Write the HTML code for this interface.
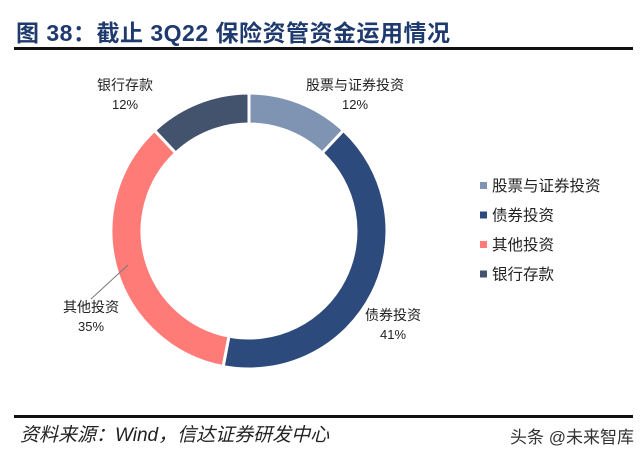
<!DOCTYPE html>
<html><head><meta charset="utf-8">
<style>
body{margin:0;width:640px;height:450px;background:#fff;overflow:hidden;position:relative;font-family:"Liberation Sans","Noto Sans CJK SC",sans-serif;}
#title{position:absolute;left:16px;top:14px;font-size:23px;font-weight:bold;color:#1f3a6e;letter-spacing:0.5px;white-space:nowrap;}
.rule{position:absolute;left:14px;width:619px;height:3px;background:#111;}
#src{position:absolute;left:20px;top:420px;font-size:19px;font-style:italic;color:#222;white-space:nowrap;}
#wm{position:absolute;left:510px;top:423px;font-size:17px;color:#333;white-space:nowrap;}
</style></head><body>
<div id="title">图 38：截止 3Q22 保险资管资金运用情况</div>
<div class="rule" style="top:47px"></div>
<div class="rule" style="top:415px"></div>
<div id="src">资料来源：Wind，信达证券研发中心</div>
<div id="wm">头条 @未来智库</div>
<svg id="chart" width="640" height="450" style="position:absolute;left:0;top:0"></svg>
<script>
const categories=["股票与证券投资","债券投资","其他投资","银行存款"];
const values=[12,41,35,12];
const colors=["#7f93b3","#2d4a7c","#ff7b77","#43536e"];
const labelPos=[[355,90],[393,320],[91,312],[125,90]];
const NS="http://www.w3.org/2000/svg";
const svg=document.getElementById('chart');
const cx=249,cy=231,R=138,r=107;
const total=values.reduce((a,b)=>a+b,0);
function pt(a,rad){return [cx+rad*Math.sin(a),cy-rad*Math.cos(a)];}
let acc=0;
values.forEach((v,i)=>{
  const a0=acc/total*2*Math.PI;acc+=v;const a1=acc/total*2*Math.PI;
  const lg=(a1-a0)>Math.PI?1:0;
  const [x0,y0]=pt(a0,R),[x1,y1]=pt(a1,R),[x2,y2]=pt(a1,r),[x3,y3]=pt(a0,r);
  const p=document.createElementNS(NS,'path');
  p.setAttribute('d',`M${x0},${y0}A${R},${R} 0 ${lg} 1 ${x1},${y1}L${x2},${y2}A${r},${r} 0 ${lg} 0 ${x3},${y3}Z`);
  p.setAttribute('fill',colors[i]);p.setAttribute('stroke','#fff');p.setAttribute('stroke-width','3');
  
  
  svg.appendChild(p);
  const [lx,ly]=labelPos[i];
  const t=document.createElementNS(NS,'text');
  t.setAttribute('x',lx);t.setAttribute('y',ly);t.setAttribute('text-anchor','middle');
  t.setAttribute('font-size','14');t.setAttribute('fill','#222');
  t.setAttribute('font-family','"Liberation Sans","Noto Sans CJK SC",sans-serif');
  t.textContent=categories[i];
  
  
  svg.appendChild(t);
  const t2=document.createElementNS(NS,'text');
  t2.setAttribute('x',lx);t2.setAttribute('y',ly+19);t2.setAttribute('text-anchor','middle');
  t2.setAttribute('font-size','13');t2.setAttribute('fill','#222');
  t2.setAttribute('font-family','"Liberation Sans",sans-serif');
  t2.textContent=v+'%';
  
  
  svg.appendChild(t2);
  // legend
  const ly2=185+i*29.5;
  const sq=document.createElementNS(NS,'rect');
  sq.setAttribute('x',480);sq.setAttribute('y',ly2-3);sq.setAttribute('width',7);sq.setAttribute('height',7);
  sq.setAttribute('fill',colors[i]);
  
  
  svg.appendChild(sq);
  const lt=document.createElementNS(NS,'text');
  lt.setAttribute('x',492);lt.setAttribute('y',ly2+6);lt.setAttribute('font-size','15.5');lt.setAttribute('fill','#222');
  lt.setAttribute('font-family','"Liberation Sans","Noto Sans CJK SC",sans-serif');
  lt.textContent=categories[i];
  
  
  svg.appendChild(lt);
});
const ln=document.createElementNS(NS,'line');
ln.setAttribute('x1',128);ln.setAttribute('y1',265);ln.setAttribute('x2',91);ln.setAttribute('y2',299);
ln.setAttribute('stroke','#777');ln.setAttribute('stroke-width','1');


svg.appendChild(ln);
</script>
</body></html>
